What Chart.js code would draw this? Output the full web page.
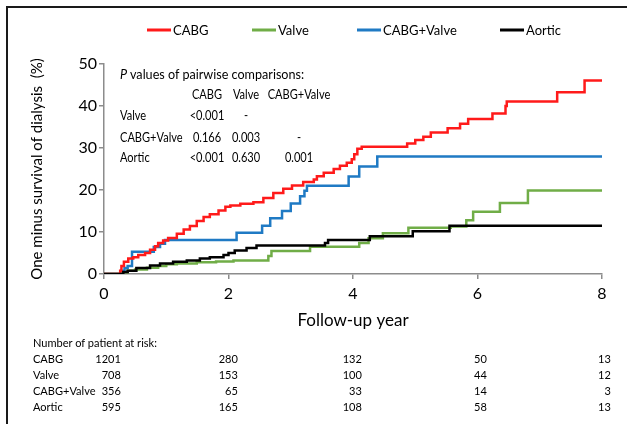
<!DOCTYPE html>
<html>
<head>
<meta charset="utf-8">
<script src="https://cdn.jsdelivr.net/npm/chart.js@4.4.1/dist/chart.umd.min.js"></script>
<style>
  body { margin: 0; background: #fff; }
  #wrap { position: relative; width: 627px; height: 424px; overflow: hidden; font-family: Lato, "Open Sans", sans-serif; color: #000; }
  #frame { position: absolute; left: 6px; top: 6px; width: 700px; height: 500px; border-left: 2px solid #1a1a1a; border-top: 2px solid #1a1a1a; }
  #chart { position: absolute; left: 0; top: 0; }
  .txt { position: absolute; white-space: pre; line-height: 1; transform: translateY(-50%); transform-origin: left center; }
  .leg-line { position: absolute; height: 3px; transform: translateY(-50%); }
</style>
</head>
<body>
<div id="wrap">
  <div id="frame"></div>
  <canvas id="chart" width="627" height="424"></canvas>
  <div id="overlay"></div>
</div>
<script>
// series
const seriesNames = ["CABG", "Valve", "CABG+Valve", "Aortic"];
const seriesColors = ["#ff1a1a", "#70ad47", "#1f7ac4", "#000000"];

const cabgYears = [0, 0.26, 0.28, 0.32, 0.39, 0.47, 0.55, 0.66, 0.74, 0.82, 0.87, 0.95, 1.03, 1.17, 1.28, 1.38, 1.49, 1.6, 1.7, 1.84, 1.95, 2.03, 2.19, 2.4, 2.56, 2.72, 2.88, 3.02, 3.2, 3.37, 3.42, 3.53, 3.69, 3.79, 3.9, 3.98, 4.02, 4.07, 4.14, 4.87, 5.0, 5.13, 5.25, 5.52, 5.72, 5.85, 6.24, 6.45, 6.47, 7.28, 7.72, 8];
const cabgValues = [0, 0.8, 1.9, 2.9, 3.7, 4.0, 4.5, 5.0, 5.8, 6.6, 7.4, 8.0, 8.6, 9.6, 10.6, 11.4, 12.6, 13.6, 14.2, 15.1, 16.0, 16.3, 16.7, 17.1, 18.1, 19.3, 20.3, 21.1, 21.9, 22.5, 23.3, 24.1, 25.0, 25.8, 26.5, 27.3, 28.5, 29.8, 30.3, 31.1, 31.9, 32.7, 33.7, 34.7, 35.8, 36.9, 38.2, 40.0, 41.1, 43.3, 46.1, 46.1];

const valveYears = [0, 0.3, 0.38, 0.5, 0.69, 0.87, 1.0, 1.17, 1.49, 1.8, 2.08, 2.64, 2.69, 3.31, 4.1, 4.25, 4.48, 4.89, 5.57, 5.82, 5.93, 6.36, 6.81, 8];
const valveValues = [0, 0.4, 0.8, 1.1, 1.5, 1.9, 2.3, 2.5, 2.8, 3.0, 3.2, 4.3, 5.5, 6.5, 7.4, 8.5, 9.7, 11.0, 11.3, 12.8, 14.8, 16.9, 19.9, 19.9];

const comboYears = [0, 0.28, 0.33, 0.38, 0.45, 0.8, 0.9, 0.98, 2.13, 2.54, 2.67, 2.86, 3.0, 3.15, 3.22, 3.26, 3.93, 4.1, 4.39, 8];
const comboValues = [0, 0.8, 1.4, 1.9, 5.3, 6.4, 7.2, 8.1, 9.8, 11.5, 13.3, 15.0, 16.8, 18.5, 19.8, 21.0, 23.2, 25.6, 28.0, 28.0];

const aorticYears = [0, 0.31, 0.38, 0.52, 0.74, 0.9, 1.11, 1.33, 1.54, 1.7, 1.92, 2.0, 2.1, 2.29, 2.45, 3.55, 3.6, 4.27, 4.96, 5.55, 8];
const aorticValues = [0, 0.5, 0.8, 1.4, 2.0, 2.5, 2.9, 3.2, 3.7, 4.0, 4.5, 5.0, 5.6, 6.2, 6.8, 7.4, 8.1, 9.0, 10.2, 11.5, 11.5];

// p value table
const pHeaders = ["CABG", "Valve", "CABG+Valve"];
const pRowNames = ["Valve", "CABG+Valve", "Aortic"];
const pValues = [
  ["<0.001", "-", ""],
  ["0.166", "0.003", "-"],
  ["<0.001", "0.630", "0.001"],
];

// number at risk
const riskYears = [0, 2, 4, 6, 8];
const riskCabg = [1201, 280, 132, 50, 13];
const riskValve = [708, 153, 100, 44, 12];
const riskCombo = [356, 65, 33, 14, 3];
const riskAortic = [595, 165, 108, 58, 13];

const FONT = "Lato, 'Open Sans', sans-serif";

function toPoints(xs, ys) {
  return xs.map((x, i) => ({ x: x, y: ys[i] }));
}

const allSeries = [
  toPoints(cabgYears, cabgValues),
  toPoints(valveYears, valveValues),
  toPoints(comboYears, comboValues),
  toPoints(aorticYears, aorticValues),
];

const axisColor = "#8c8c8c";

const chart = new Chart(document.getElementById("chart"), {
  type: "line",
  data: {
    datasets: allSeries.map((pts, i) => ({
      label: seriesNames[i],
      data: pts,
      borderColor: seriesColors[i],
      backgroundColor: seriesColors[i],
      borderWidth: 2.5,
      stepped: true,
      pointRadius: 0,
      fill: false,
      order: i === 3 ? 0 : i + 1,
    })),
  },
  options: {
    responsive: false,
    animation: false,
    devicePixelRatio: 1,
    layout: { padding: { top: 64, right: 25, bottom: 90, left: 0 } },
    plugins: { legend: { display: false }, tooltip: { enabled: false } },
    scales: {
      x: {
        type: "linear",
        min: 0,
        max: 8,
        afterFit: (s) => { s.height = 60; },
        ticks: { stepSize: 2, color: "#000", padding: 5, font: { family: FONT, size: 16 } },
        grid: { drawOnChartArea: false, drawTicks: true, tickLength: 5, color: axisColor, lineWidth: 1.5 },
        border: { display: true, color: axisColor, width: 1.5 },
        title: { display: true, text: "Follow-up year", color: "#000", padding: { top: 0, bottom: 3 }, font: { family: FONT, size: 17 } },
      },
      y: {
        min: 0,
        max: 50,
        afterFit: (s) => { s.width = 104; },
        ticks: { stepSize: 5, color: "#000", padding: 2, font: { family: FONT, size: 16 } },
        grid: { drawOnChartArea: false, drawTicks: true, tickLength: 5, color: axisColor, lineWidth: 1.5 },
        border: { display: true, color: axisColor, width: 1.5 },
        title: { display: true, text: "One minus survival of dialysis  (%)", color: "#000", padding: { top: 28, bottom: 0 }, font: { family: FONT, size: 15 } },
      },
    },
  },
});

// overlay text
const overlay = document.getElementById("overlay");
function addText(str, x, y, size, opts = {}) {
  const el = document.createElement("div");
  el.className = "txt";
  el.textContent = str;
  el.style.fontSize = size + "px";
  el.style.top = y + "px";
  const sx = opts.sx ? ` scaleX(${opts.sx})` : "";
  if (opts.align === "right") {
    el.style.right = (627 - x) + "px";
    el.style.transformOrigin = "right center";
    el.style.transform = "translateY(-50%)" + sx;
  } else if (opts.align === "center") {
    el.style.left = x + "px";
    el.style.transformOrigin = "center center";
    el.style.transform = "translate(-50%, -50%)" + sx;
  } else {
    el.style.left = x + "px";
    el.style.transform = "translateY(-50%)" + sx;
  }
  overlay.appendChild(el);
  return el;
}

// legend
const legendX = [147, 252, 357, 500];
seriesNames.forEach((name, i) => {
  const line = document.createElement("div");
  line.className = "leg-line";
  line.style.left = legendX[i] + "px";
  line.style.top = "30px";
  line.style.width = "24px";
  line.style.background = seriesColors[i];
  overlay.appendChild(line);
  addText(name, legendX[i] + 26, 30, 14, { sx: 0.93 });
});

// p value table
const pTitle = addText("", 120, 74, 14, { sx: 0.9 });
pTitle.innerHTML = "<i>P</i> values of pairwise comparisons:";
const pColX = [207, 246, 299];
const pRowY = [115, 137, 157];
pHeaders.forEach((h, j) => addText(h, pColX[j], 94, 13, { align: "center", sx: 0.85 }));
pRowNames.forEach((r, i) => {
  addText(r, 120, pRowY[i], 13, { sx: 0.85 });
  pValues[i].forEach((v, j) => {
    if (v) addText(v, pColX[j], pRowY[i], 13, { align: "center", sx: 0.85 });
  });
});

// number at risk table
addText("Number of patient at risk:", 33, 343, 12, { sx: 0.92 });
const riskRows = [riskCabg, riskValve, riskCombo, riskAortic];
const riskRowY = [359, 375, 391, 407];
riskRows.forEach((row, i) => {
  addText(seriesNames[i], 33, riskRowY[i], 12, { sx: 0.92 });
  row.forEach((n, j) => {
    const px = chart.scales.x.getPixelForValue(riskYears[j]);
    addText(String(n), px + (j === 0 ? 17 : 9), riskRowY[i], 12, { align: "right", sx: 0.92 });
  });
});
</script>
</body>
</html>
